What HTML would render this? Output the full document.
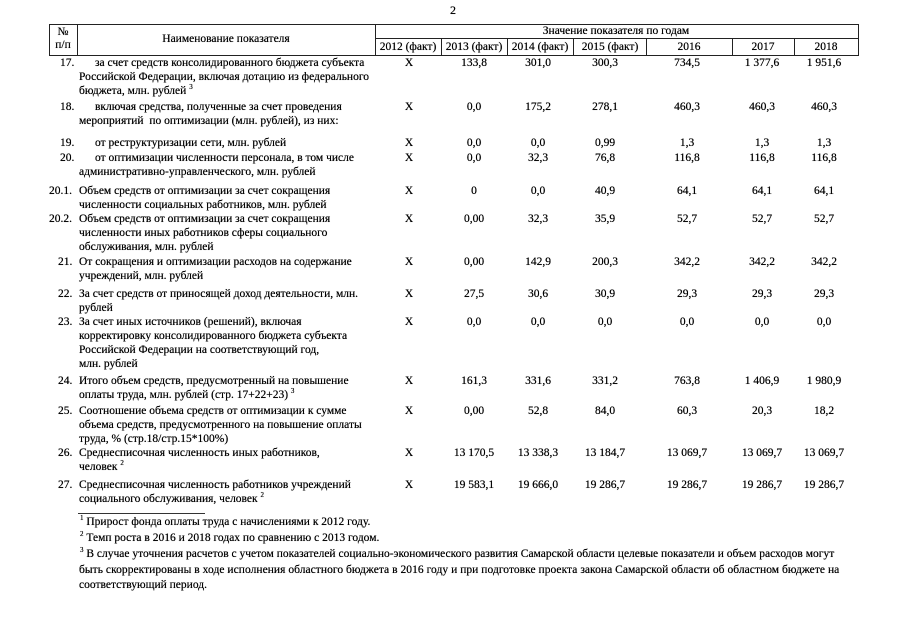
<!DOCTYPE html>
<html><head><meta charset="utf-8">
<style>
html,body{margin:0;padding:0;background:#fff;}
#p{position:relative;width:905px;height:640px;overflow:hidden;background:#fff;color:#000;font-family:"Liberation Serif",serif;font-size:11.5px;text-shadow:0 0 0.4px #000;}
.t{position:absolute;white-space:nowrap;line-height:14px;height:14px;}
.c{text-align:center;width:90px;}
.f{font-size:11.5px;}
sup{font-size:7px;vertical-align:5px;line-height:0;}
.h{position:absolute;height:1px;background:#222;}
.v{position:absolute;width:1px;background:#222;}
</style></head><body>
<div id="p">
<div class="t" style="left:450px;top:3px;font-size:12px;">2</div>

<!-- header lines -->
<div class="h" style="left:49px;top:24px;width:810px;"></div>
<div class="h" style="left:375px;top:38px;width:484px;"></div>
<div class="h" style="left:49px;top:55px;width:810px;"></div>
<div class="v" style="left:49px;top:24px;height:32px;"></div>
<div class="v" style="left:77px;top:24px;height:32px;"></div>
<div class="v" style="left:375px;top:24px;height:32px;"></div>
<div class="v" style="left:858px;top:24px;height:32px;"></div>
<div class="v" style="left:441px;top:38px;height:18px;"></div>
<div class="v" style="left:507px;top:38px;height:18px;"></div>
<div class="v" style="left:573px;top:38px;height:18px;"></div>
<div class="v" style="left:646px;top:38px;height:18px;"></div>
<div class="v" style="left:732px;top:38px;height:18px;"></div>
<div class="v" style="left:794px;top:38px;height:18px;"></div>

<div class="t c" style="left:18px;top:25px;">№</div>
<div class="t c" style="left:18px;top:38px;">п/п</div>
<div class="t c" style="left:126px;top:32px;width:200px;">Наименование показателя</div>
<div class="t c" style="left:516px;top:24px;width:200px;">Значение показателя по годам</div>
<div class="t c" style="left:378px;top:40px;width:60px;">2012 (факт)</div>
<div class="t c" style="left:444px;top:40px;width:60px;">2013 (факт)</div>
<div class="t c" style="left:510px;top:40px;width:60px;">2014 (факт)</div>
<div class="t c" style="left:576px;top:40px;width:68px;">2015 (факт)</div>
<div class="t c" style="left:649px;top:40px;width:80px;">2016</div>
<div class="t c" style="left:735px;top:40px;width:56px;">2017</div>
<div class="t c" style="left:797px;top:40px;width:58px;">2018</div>

<!-- Row 17 -->
<div class="t" style="left:60px;top:56px;">17.</div>
<div class="t" style="left:95px;top:56px;">за счет средств консолидированного бюджета субъекта</div>
<div class="t" style="left:79px;top:70px;">Российской Федерации, включая дотацию из федерального</div>
<div class="t" style="left:79px;top:84px;">бюджета, млн. рублей <sup>3</sup></div>
<div class="t c" style="left:364px;top:56px;">X</div>
<div class="t c" style="left:429px;top:56px;">133,8</div>
<div class="t c" style="left:493px;top:56px;">301,0</div>
<div class="t c" style="left:560px;top:56px;">300,3</div>
<div class="t c" style="left:642px;top:56px;">734,5</div>
<div class="t c" style="left:717px;top:56px;">1 377,6</div>
<div class="t c" style="left:779px;top:56px;">1 951,6</div>

<!-- Row 18 -->
<div class="t" style="left:60px;top:100px;">18.</div>
<div class="t" style="left:95px;top:100px;">включая средства, полученные за счет проведения</div>
<div class="t" style="left:79px;top:114px;">мероприятий&nbsp; по оптимизации (млн. рублей), из них:</div>
<div class="t c" style="left:364px;top:100px;">X</div>
<div class="t c" style="left:429px;top:100px;">0,0</div>
<div class="t c" style="left:493px;top:100px;">175,2</div>
<div class="t c" style="left:560px;top:100px;">278,1</div>
<div class="t c" style="left:642px;top:100px;">460,3</div>
<div class="t c" style="left:717px;top:100px;">460,3</div>
<div class="t c" style="left:779px;top:100px;">460,3</div>

<!-- Row 19 -->
<div class="t" style="left:60px;top:136px;">19.</div>
<div class="t" style="left:95px;top:136px;">от реструктуризации сети, млн. рублей</div>
<div class="t c" style="left:364px;top:136px;">X</div>
<div class="t c" style="left:429px;top:136px;">0,0</div>
<div class="t c" style="left:493px;top:136px;">0,0</div>
<div class="t c" style="left:560px;top:136px;">0,99</div>
<div class="t c" style="left:642px;top:136px;">1,3</div>
<div class="t c" style="left:717px;top:136px;">1,3</div>
<div class="t c" style="left:779px;top:136px;">1,3</div>

<!-- Row 20 -->
<div class="t" style="left:60px;top:151px;">20.</div>
<div class="t" style="left:95px;top:151px;">от оптимизации численности персонала, в том числе</div>
<div class="t" style="left:79px;top:165px;">административно-управленческого, млн. рублей</div>
<div class="t c" style="left:364px;top:151px;">X</div>
<div class="t c" style="left:429px;top:151px;">0,0</div>
<div class="t c" style="left:493px;top:151px;">32,3</div>
<div class="t c" style="left:560px;top:151px;">76,8</div>
<div class="t c" style="left:642px;top:151px;">116,8</div>
<div class="t c" style="left:717px;top:151px;">116,8</div>
<div class="t c" style="left:779px;top:151px;">116,8</div>

<!-- Row 20.1 -->
<div class="t" style="left:49px;top:184px;">20.1.</div>
<div class="t" style="left:79px;top:184px;">Объем средств от оптимизации за счет сокращения</div>
<div class="t" style="left:79px;top:198px;">численности социальных работников, млн. рублей</div>
<div class="t c" style="left:364px;top:184px;">X</div>
<div class="t c" style="left:429px;top:184px;">0</div>
<div class="t c" style="left:493px;top:184px;">0,0</div>
<div class="t c" style="left:560px;top:184px;">40,9</div>
<div class="t c" style="left:642px;top:184px;">64,1</div>
<div class="t c" style="left:717px;top:184px;">64,1</div>
<div class="t c" style="left:779px;top:184px;">64,1</div>

<!-- Row 20.2 -->
<div class="t" style="left:49px;top:212px;">20.2.</div>
<div class="t" style="left:79px;top:212px;">Объем средств от оптимизации за счет сокращения</div>
<div class="t" style="left:79px;top:226px;">численности иных работников сферы социального</div>
<div class="t" style="left:79px;top:240px;">обслуживания, млн. рублей</div>
<div class="t c" style="left:364px;top:212px;">X</div>
<div class="t c" style="left:429px;top:212px;">0,00</div>
<div class="t c" style="left:493px;top:212px;">32,3</div>
<div class="t c" style="left:560px;top:212px;">35,9</div>
<div class="t c" style="left:642px;top:212px;">52,7</div>
<div class="t c" style="left:717px;top:212px;">52,7</div>
<div class="t c" style="left:779px;top:212px;">52,7</div>

<!-- Row 21 -->
<div class="t" style="left:58px;top:255px;">21.</div>
<div class="t" style="left:79px;top:255px;">От сокращения и оптимизации расходов на содержание</div>
<div class="t" style="left:79px;top:269px;">учреждений, млн. рублей</div>
<div class="t c" style="left:364px;top:255px;">X</div>
<div class="t c" style="left:429px;top:255px;">0,00</div>
<div class="t c" style="left:493px;top:255px;">142,9</div>
<div class="t c" style="left:560px;top:255px;">200,3</div>
<div class="t c" style="left:642px;top:255px;">342,2</div>
<div class="t c" style="left:717px;top:255px;">342,2</div>
<div class="t c" style="left:779px;top:255px;">342,2</div>

<!-- Row 22 -->
<div class="t" style="left:58px;top:287px;">22.</div>
<div class="t" style="left:79px;top:287px;">За счет средств от приносящей доход деятельности, млн.</div>
<div class="t" style="left:79px;top:301px;">рублей</div>
<div class="t c" style="left:364px;top:287px;">X</div>
<div class="t c" style="left:429px;top:287px;">27,5</div>
<div class="t c" style="left:493px;top:287px;">30,6</div>
<div class="t c" style="left:560px;top:287px;">30,9</div>
<div class="t c" style="left:642px;top:287px;">29,3</div>
<div class="t c" style="left:717px;top:287px;">29,3</div>
<div class="t c" style="left:779px;top:287px;">29,3</div>

<!-- Row 23 -->
<div class="t" style="left:58px;top:315px;">23.</div>
<div class="t" style="left:79px;top:315px;">За счет иных источников (решений), включая</div>
<div class="t" style="left:79px;top:329px;">корректировку консолидированного бюджета субъекта</div>
<div class="t" style="left:79px;top:343px;">Российской Федерации на соответствующий год,</div>
<div class="t" style="left:79px;top:357px;">млн. рублей</div>
<div class="t c" style="left:364px;top:315px;">X</div>
<div class="t c" style="left:429px;top:315px;">0,0</div>
<div class="t c" style="left:493px;top:315px;">0,0</div>
<div class="t c" style="left:560px;top:315px;">0,0</div>
<div class="t c" style="left:642px;top:315px;">0,0</div>
<div class="t c" style="left:717px;top:315px;">0,0</div>
<div class="t c" style="left:779px;top:315px;">0,0</div>

<!-- Row 24 -->
<div class="t" style="left:58px;top:374px;">24.</div>
<div class="t" style="left:79px;top:374px;">Итого объем средств, предусмотренный на повышение</div>
<div class="t" style="left:79px;top:388px;">оплаты труда, млн. рублей (стр. 17+22+23) <sup>3</sup></div>
<div class="t c" style="left:364px;top:374px;">X</div>
<div class="t c" style="left:429px;top:374px;">161,3</div>
<div class="t c" style="left:493px;top:374px;">331,6</div>
<div class="t c" style="left:560px;top:374px;">331,2</div>
<div class="t c" style="left:642px;top:374px;">763,8</div>
<div class="t c" style="left:717px;top:374px;">1 406,9</div>
<div class="t c" style="left:779px;top:374px;">1 980,9</div>

<!-- Row 25 -->
<div class="t" style="left:58px;top:404px;">25.</div>
<div class="t" style="left:79px;top:404px;">Соотношение объема средств от оптимизации к сумме</div>
<div class="t" style="left:79px;top:418px;">объема средств, предусмотренного на повышение оплаты</div>
<div class="t" style="left:79px;top:432px;">труда, % (стр.18/стр.15*100%)</div>
<div class="t c" style="left:364px;top:404px;">X</div>
<div class="t c" style="left:429px;top:404px;">0,00</div>
<div class="t c" style="left:493px;top:404px;">52,8</div>
<div class="t c" style="left:560px;top:404px;">84,0</div>
<div class="t c" style="left:642px;top:404px;">60,3</div>
<div class="t c" style="left:717px;top:404px;">20,3</div>
<div class="t c" style="left:779px;top:404px;">18,2</div>

<!-- Row 26 -->
<div class="t" style="left:58px;top:446px;">26.</div>
<div class="t" style="left:79px;top:446px;">Среднесписочная численность иных работников,</div>
<div class="t" style="left:79px;top:460px;">человек <sup>2</sup></div>
<div class="t c" style="left:364px;top:446px;">X</div>
<div class="t c" style="left:429px;top:446px;">13 170,5</div>
<div class="t c" style="left:493px;top:446px;">13 338,3</div>
<div class="t c" style="left:560px;top:446px;">13 184,7</div>
<div class="t c" style="left:642px;top:446px;">13 069,7</div>
<div class="t c" style="left:717px;top:446px;">13 069,7</div>
<div class="t c" style="left:779px;top:446px;">13 069,7</div>

<!-- Row 27 -->
<div class="t" style="left:58px;top:478px;">27.</div>
<div class="t" style="left:79px;top:478px;">Среднесписочная численность работников учреждений</div>
<div class="t" style="left:79px;top:492px;">социального обслуживания, человек <sup>2</sup></div>
<div class="t c" style="left:364px;top:478px;">X</div>
<div class="t c" style="left:429px;top:478px;">19 583,1</div>
<div class="t c" style="left:493px;top:478px;">19 666,0</div>
<div class="t c" style="left:560px;top:478px;">19 286,7</div>
<div class="t c" style="left:642px;top:478px;">19 286,7</div>
<div class="t c" style="left:717px;top:478px;">19 286,7</div>
<div class="t c" style="left:779px;top:478px;">19 286,7</div>

<!-- footnotes -->
<div class="h" style="left:78px;top:513px;width:127px;background:#333;"></div>
<div class="t f" style="left:80px;top:515px;"><sup>1</sup> Прирост фонда оплаты труда с начислениями к 2012 году.</div>
<div class="t f" style="left:80px;top:531px;"><sup>2</sup> Темп роста в 2016 и 2018 годах по сравнению с 2013 годом.</div>
<div class="t f" style="left:80px;top:547px;"><sup>3</sup> В случае уточнения расчетов с учетом показателей социально-экономического развития Самарской области целевые показатели и объем расходов могут</div>
<div class="t f" style="left:79px;top:563px;letter-spacing:0.04px;">быть скорректированы в ходе исполнения областного бюджета в 2016 году и при подготовке проекта закона Самарской области об областном бюджете на</div>
<div class="t f" style="left:79px;top:578px;">соответствующий период.</div>
</div>
</body></html>
